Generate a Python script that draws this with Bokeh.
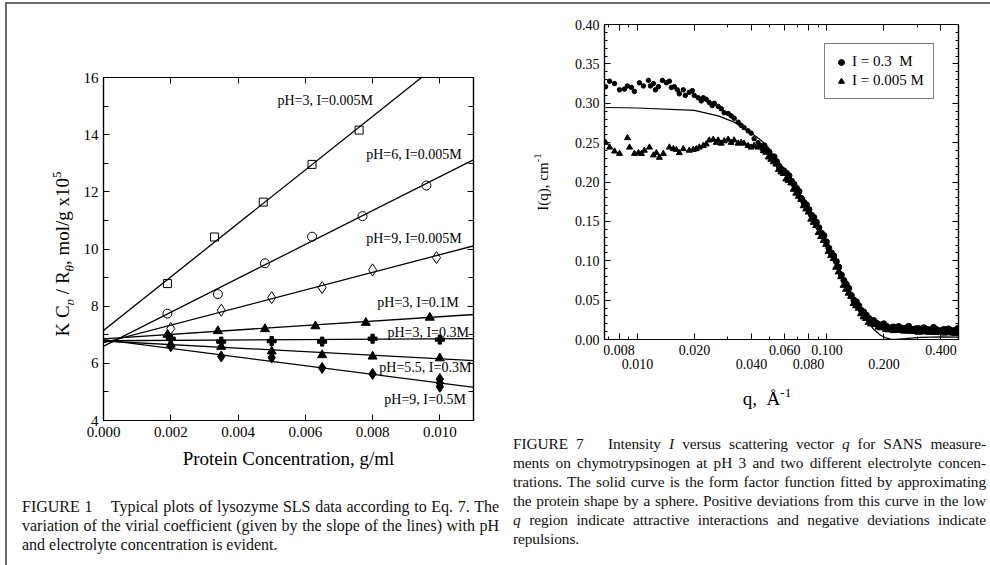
import numpy as np
from bokeh.plotting import figure
from bokeh.models import (Range1d, LinearAxis, LogAxis, FixedTicker, SingleIntervalTicker,
                          Slope, Legend, LegendItem, Div, NumeralTickFormatter,
                          CustomJSTickFormatter)
from bokeh.layouts import row, column
from bokeh.embed import file_html
from bokeh.resources import INLINE
from bokeh.core.properties import value

FONT = "Liberation Serif"

# ---------------- Figure 1 data (lysozyme SLS) ----------------
c_sq = [0.0019, 0.0033, 0.00475, 0.0062, 0.0076]
y_sq = [8.79, 10.42, 11.64, 12.96, 14.16]
c_circ = [0.0019, 0.0034, 0.0048, 0.0062, 0.0077, 0.0096]
y_circ = [7.74, 8.42, 9.50, 10.43, 11.15, 12.22]
c_dia = [0.0020, 0.0035, 0.0050, 0.0065, 0.0080, 0.0099]
y_dia = [7.22, 7.86, 8.30, 8.65, 9.27, 9.70]
c_tri01 = [0.0019, 0.0034, 0.0048, 0.0063, 0.0078, 0.0097]
y_tri01 = [7.00, 7.13, 7.20, 7.30, 7.42, 7.60]
c_plus = [0.0020, 0.0035, 0.0050, 0.0065, 0.0080, 0.0100]
y_plus = [6.86, 6.76, 6.78, 6.76, 6.86, 6.83]
c_tri55 = [0.0020, 0.0035, 0.0050, 0.0065, 0.0080, 0.0100]
y_tri55 = [6.66, 6.58, 6.42, 6.29, 6.24, 6.18]
c_dia9 = [0.0020, 0.0035, 0.0050, 0.0065, 0.0080, 0.0100, 0.0100, 0.0100]
y_dia9 = [6.60, 6.24, 6.20, 5.84, 5.63, 5.45, 5.31, 5.18]

fit_intercepts = [7.15, 6.60, 6.72, 6.86, 6.79, 6.78, 6.83]
fit_slopes = [936, 593, 308, 77, 7, -62, -152]

series_labels = ["pH=3, I=0.005M", "pH=6, I=0.005M", "pH=9, I=0.005M", "pH=3, I=0.1M",
                 "pH=3, I=0.3M", "pH=5.5, I=0.3M", "pH=9, I=0.5M"]
label_x = [0.00517, 0.00781, 0.00781, 0.00814, 0.00844, 0.00820, 0.00835]
label_y = [15.2, 13.31, 10.37, 8.13, 7.08, 5.85, 4.73]

x1_ticks = [0.000, 0.002, 0.004, 0.006, 0.008, 0.010]

# ---------------- Figure 7 data (SANS) ----------------
# I = 0.3 M, low-q part
q_03 = [0.00679, 0.00713, 0.00757, 0.00804, 0.00854, 0.00886, 0.00930, 0.00964, 0.01024, 0.01075,
        0.01143, 0.01171, 0.01214, 0.01244, 0.01290, 0.01354, 0.01421, 0.01474, 0.01510, 0.01565,
        0.01624, 0.01663, 0.01746, 0.01789, 0.01878, 0.01948, 0.01995, 0.02094, 0.02172, 0.02225,
        0.02307, 0.02393, 0.02481, 0.02542, 0.02668, 0.02768, 0.02870, 0.03011, 0.03123, 0.03240,
        0.03401, 0.03525, 0.03656, 0.03837, 0.03981, 0.04128, 0.04333, 0.04494]
I_03 = [0.321, 0.328, 0.325, 0.317, 0.318, 0.322, 0.320, 0.315, 0.326, 0.322,
        0.329, 0.322, 0.325, 0.317, 0.321, 0.329, 0.326, 0.328, 0.320, 0.321,
        0.317, 0.312, 0.317, 0.310, 0.314, 0.316, 0.310, 0.307, 0.303, 0.307,
        0.305, 0.301, 0.297, 0.300, 0.296, 0.293, 0.288, 0.287, 0.284, 0.281,
        0.276, 0.272, 0.269, 0.265, 0.262, 0.255, 0.250, 0.246]
# I = 0.3 M, dense high-q band
q_03_band = [0.04660, 0.04951, 0.05262, 0.05590, 0.05938, 0.06310, 0.06704, 0.07122, 0.07567, 0.08039,
             0.08541, 0.09074, 0.09643, 0.1024, 0.1088, 0.1156, 0.1229, 0.1305, 0.1387, 0.1474,
             0.1565, 0.1664, 0.1768, 0.1878, 0.1995, 0.2120, 0.2252, 0.2393, 0.2543, 0.2702,
             0.2871, 0.3050, 0.3240, 0.3443, 0.3657, 0.3886, 0.4129, 0.4387, 0.4661, 0.4893,
             0.04803, 0.05104, 0.05424, 0.05763, 0.06122, 0.06505, 0.06913, 0.07343, 0.07801, 0.08288,
             0.08806, 0.09357, 0.09940, 0.1056, 0.1122, 0.1192, 0.1267, 0.1346, 0.1430, 0.1519,
             0.1614, 0.1715, 0.1822, 0.1936, 0.2057, 0.2186, 0.2322, 0.2467, 0.2620, 0.2784,
             0.2959, 0.3144, 0.3340, 0.3548, 0.3770, 0.4005, 0.4256, 0.4522, 0.4804]
I_03_band = [0.246, 0.238, 0.232, 0.220, 0.214, 0.208, 0.197, 0.188, 0.174, 0.165,
             0.155, 0.142, 0.132, 0.116, 0.106, 0.092, 0.075, 0.065, 0.050, 0.043,
             0.035, 0.027, 0.024, 0.019, 0.020, 0.0145, 0.016, 0.0165, 0.014, 0.0168,
             0.0125, 0.014, 0.015, 0.0125, 0.0154, 0.011, 0.0128, 0.0135, 0.0113, 0.0140,
             0.241, 0.232, 0.226, 0.216, 0.211, 0.201, 0.192, 0.179, 0.171, 0.158,
             0.149, 0.135, 0.124, 0.110, 0.099, 0.082, 0.070, 0.056, 0.048, 0.037,
             0.031, 0.024, 0.021, 0.018, 0.017, 0.0150, 0.0155, 0.0140, 0.0147, 0.0132,
             0.0138, 0.0126, 0.0133, 0.0120, 0.0128, 0.0114, 0.0123, 0.0109, 0.0117]

# I = 0.005 M, low-q part
q_0005 = [0.00679, 0.00713, 0.00757, 0.00804, 0.00886, 0.00908, 0.00964, 0.01012, 0.01050, 0.01088,
          0.01157, 0.01214, 0.01259, 0.01305, 0.01370, 0.01474, 0.01547, 0.01605, 0.01663, 0.01746,
          0.01878, 0.01971, 0.02045, 0.02120, 0.02225, 0.02307, 0.02393, 0.02512, 0.02605, 0.02668,
          0.02768, 0.02870, 0.03011, 0.03123, 0.03240, 0.03401, 0.03525, 0.03656, 0.03837, 0.03981,
          0.04128, 0.04333, 0.04603]
I_0005 = [0.250, 0.244, 0.239, 0.236, 0.256, 0.244, 0.236, 0.237, 0.236, 0.240,
          0.244, 0.234, 0.237, 0.231, 0.236, 0.244, 0.242, 0.241, 0.237, 0.242,
          0.240, 0.241, 0.242, 0.244, 0.246, 0.248, 0.253, 0.254, 0.250, 0.253,
          0.249, 0.252, 0.254, 0.250, 0.253, 0.249, 0.250, 0.249, 0.246, 0.244,
          0.246, 0.244, 0.242]
# I = 0.005 M, dense high-q band
q_0005_band = [0.04660, 0.04951, 0.05262, 0.05590, 0.05938, 0.06310, 0.06704, 0.07122, 0.07567, 0.08039,
               0.08541, 0.09074, 0.09643, 0.1024, 0.1088, 0.1156, 0.1229, 0.1305, 0.1387, 0.1474,
               0.1565, 0.1664, 0.1768, 0.1878, 0.1995, 0.2120, 0.2252, 0.2393, 0.2543, 0.2702,
               0.2871, 0.3050, 0.3240, 0.3443, 0.3657, 0.3886, 0.4129, 0.4387, 0.4661, 0.4893,
               0.04803, 0.05104, 0.05424, 0.05763, 0.06122, 0.06505, 0.06913, 0.07343, 0.07801, 0.08288,
               0.08806, 0.09357, 0.09940, 0.1056, 0.1122, 0.1192, 0.1267, 0.1346, 0.1430, 0.1519,
               0.1614, 0.1715, 0.1822, 0.1936, 0.2057, 0.2186, 0.2322, 0.2467, 0.2620, 0.2784,
               0.2959, 0.3144, 0.3340, 0.3548, 0.3770, 0.4005, 0.4256, 0.4522, 0.4804]
I_0005_band = [0.240, 0.232, 0.226, 0.216, 0.211, 0.202, 0.191, 0.182, 0.170, 0.162,
               0.149, 0.136, 0.126, 0.112, 0.103, 0.086, 0.069, 0.059, 0.046, 0.040,
               0.029, 0.022, 0.020, 0.016, 0.016, 0.0125, 0.0115, 0.0125, 0.0110, 0.0128,
               0.0105, 0.0095, 0.0110, 0.0095, 0.0114, 0.0090, 0.0085, 0.0095, 0.0083, 0.0100,
               0.238, 0.229, 0.223, 0.213, 0.204, 0.199, 0.186, 0.178, 0.166, 0.153,
               0.145, 0.131, 0.121, 0.107, 0.092, 0.080, 0.064, 0.055, 0.043, 0.033,
               0.027, 0.020, 0.019, 0.015, 0.013, 0.0132, 0.0118, 0.0133, 0.0109, 0.0107,
               0.0113, 0.0100, 0.0118, 0.0095, 0.0092, 0.0099, 0.0087, 0.0104, 0.0081]

q_fit = [0.00679, 0.0100, 0.01995, 0.02668, 0.03240, 0.03837, 0.04494, 0.04887, 0.0552, 0.0624,
         0.0704, 0.0794, 0.0897, 0.1012, 0.1143, 0.1290, 0.1383, 0.1510, 0.1637, 0.1764,
         0.1919, 0.2046, 0.2170, 0.2303, 0.2596, 0.3113, 0.3977, 0.4950]
I_fit = [0.2946, 0.2940, 0.2910, 0.2840, 0.2760, 0.2650, 0.2530, 0.2440, 0.222, 0.206,
         0.188, 0.167, 0.143, 0.118, 0.092, 0.066, 0.052, 0.036, 0.023, 0.013,
         0.0055, 0.002, 0.0005, 0.0003, 0.0012, 0.0028, 0.0033, 0.0030]

q_major = [0.008, 0.010, 0.020, 0.040, 0.060, 0.080, 0.100, 0.200, 0.400]
q_minor = [0.007, 0.009, 0.030, 0.050, 0.070, 0.090, 0.300]
q_row1 = [0.008, 0.020, 0.060, 0.100, 0.400]
q_row2 = [0.010, 0.040, 0.080, 0.200]
legend_labels = ["I = 0.3  M", "I = 0.005 M"]


def style_axis(ax, size):
    ax.axis_line_color = "black"
    ax.axis_line_width = 1.2
    ax.major_tick_line_color = "black"
    ax.minor_tick_line_color = "black"
    ax.major_tick_in = 6
    ax.major_tick_out = 0
    ax.minor_tick_in = 3
    ax.minor_tick_out = 0
    ax.major_label_text_font = FONT
    ax.major_label_text_font_size = size
    ax.major_label_text_color = "black"
    ax.axis_label_text_font = FONT
    ax.axis_label_text_font_style = "normal"
    ax.axis_label_text_color = "black"


blank = CustomJSTickFormatter(code="return '';")

# ================= Figure 1 =================
p1 = figure(width=428, height=480, x_range=Range1d(0, 0.011), y_range=Range1d(4, 16),
            output_backend="svg", toolbar_location=None, margin=0,
            min_border_left=30, min_border_right=28, min_border_top=73, min_border_bottom=64)
p1.xgrid.visible = False
p1.ygrid.visible = False
p1.outline_line_color = "black"
p1.outline_line_width = 1.2

xt1 = FixedTicker(ticks=x1_ticks, minor_ticks=[])
yt1 = SingleIntervalTicker(interval=2, num_minor_ticks=2)
p1.xaxis.ticker = xt1
p1.xaxis.formatter = NumeralTickFormatter(format="0.000")
p1.yaxis.ticker = yt1
for ax in p1.xaxis + p1.yaxis:
    style_axis(ax, "15px")
p1.yaxis.minor_tick_in = 5
p1.xaxis.major_label_standoff = 6
p1.yaxis.major_label_standoff = 5
p1.xaxis.axis_label = "Protein Concentration, g/ml"
p1.xaxis.axis_label_text_font_size = "19px"
p1.xaxis.axis_label_standoff = 8

top1 = LinearAxis(ticker=xt1, formatter=blank)
right1 = LinearAxis(ticker=yt1, formatter=blank)
for ax in (top1, right1):
    style_axis(ax, "1px")
right1.minor_tick_in = 5
p1.add_layout(top1, "above")
p1.add_layout(right1, "right")

for a, b in zip(fit_intercepts, fit_slopes):
    p1.add_layout(Slope(gradient=b, y_intercept=a, line_color="black", line_width=1.3))

p1.scatter(c_sq, y_sq, marker="square", size=8, fill_color="white", line_color="black", line_width=1)
p1.scatter(c_circ, y_circ, marker="circle", size=9, fill_color="white", line_color="black", line_width=1)
p1.scatter(c_dia, y_dia, marker="diamond", size=12, fill_color="white", line_color="black", line_width=1)
p1.scatter(c_tri01, y_tri01, marker="triangle", size=9, fill_color="black", line_color="black")
p1.scatter(c_plus, y_plus, marker="plus", size=9, fill_color="black", line_color="black", line_width=1)
p1.scatter(c_tri55, y_tri55, marker="triangle", size=9, fill_color="black", line_color="black")
p1.scatter(c_dia9, y_dia9, marker="diamond", size=11, fill_color="black", line_color="black")

p1.text(x=label_x, y=label_y, text=series_labels, text_font=value(FONT), text_font_size="14px",
        text_baseline="middle", text_align="left", text_color="black")

# ================= Figure 7 =================
p2 = figure(width=419, height=380, x_axis_type="log", x_range=Range1d(0.0067, 0.495),
            y_range=Range1d(0, 0.40), output_backend="svg", toolbar_location=None, margin=0,
            min_border_left=32, min_border_right=32, min_border_top=20, min_border_bottom=45)
p2.xgrid.visible = False
p2.ygrid.visible = False
p2.outline_line_color = "black"
p2.outline_line_width = 1.2

xt2 = FixedTicker(ticks=q_major, minor_ticks=q_minor)
yt2 = SingleIntervalTicker(interval=0.05, num_minor_ticks=5)
p2.xaxis.ticker = xt2
p2.xaxis.formatter = CustomJSTickFormatter(args=dict(show=q_row1),
    code="return show.some(v => Math.abs(v - tick) < 1e-9) ? tick.toFixed(3) : '';")
p2.yaxis.ticker = yt2
p2.yaxis.formatter = NumeralTickFormatter(format="0.00")
for ax in p2.xaxis + p2.yaxis:
    style_axis(ax, "14px")
p2.xaxis.major_label_standoff = 5
p2.yaxis.major_label_standoff = 5

row2 = LogAxis(ticker=FixedTicker(ticks=q_row2, minor_ticks=[]),
               formatter=CustomJSTickFormatter(code="return tick.toFixed(3);"))
style_axis(row2, "14px")
row2.axis_line_color = None
row2.major_tick_line_color = None
row2.minor_tick_line_color = None
row2.major_label_standoff = 1
p2.add_layout(row2, "below")

top2 = LogAxis(ticker=xt2, formatter=blank)
right2 = LinearAxis(ticker=yt2, formatter=blank)
for ax in (top2, right2):
    style_axis(ax, "1px")
p2.add_layout(top2, "above")
p2.add_layout(right2, "right")

p2.line(q_fit, I_fit, line_color="black", line_width=1.2)
r_dots = p2.scatter(q_03, I_03, marker="circle", size=4.5, fill_color="black", line_color="black")
r_tri = p2.scatter(q_0005, I_0005, marker="triangle", size=6, fill_color="black", line_color="black")
r_dots_b = p2.scatter(q_03_band, I_03_band, marker="circle", size=6, fill_color="black", line_color="black")
r_tri_b = p2.scatter(q_0005_band, I_0005_band, marker="triangle", size=7.5, fill_color="black",
                     line_color="black")

leg = Legend(items=[LegendItem(label=legend_labels[0], renderers=[r_dots, r_dots_b]),
                    LegendItem(label=legend_labels[1], renderers=[r_tri, r_tri_b])],
             location=(220, 240), padding=9, spacing=2, label_height=17, glyph_width=14,
             glyph_height=14, label_standoff=4, margin=0,
             label_text_font=FONT, label_text_font_size="15px", label_text_color="black",
             border_line_color="black", border_line_width=1.2, background_fill_alpha=1)
p2.add_layout(leg)


# ================= HTML text blocks =================
def text_block(html, w, h, cx, cy, size, rotate=False):
    tf = "translate(-50%,-50%) rotate(-90deg)" if rotate else "translate(-50%,-50%)"
    inner = (f'<div style="position:relative;box-sizing:content-box;width:{w}px;height:{h}px;">'
             f'<div style="position:absolute;left:{cx}px;top:{cy}px;transform:{tf};'
             f"white-space:nowrap;font-family:'Liberation Serif';font-size:{size};"
             f'line-height:1;color:black;">{html}</div></div>')
    return Div(text=inner, width=w, height=h, margin=0)


def sub(t, size="13px", dy=5, italic=True):
    st = "italic" if italic else "normal"
    return (f'<span style="font-size:{size};font-style:{st};position:relative;'
            f'top:{dy}px;">{t}</span>')


ylab1_html = ("K C" + sub("p") + " / R" + sub("θ") + ", mol/g x10"
              + sub("5", dy=-8, italic=False))
ylab2_html = "I(q), cm" + sub("-1", size="11px", dy=-7, italic=False)
xlab2_html = "q,&nbsp; Å" + sub("-1", size="13px", dy=-8, italic=False)

ydiv1 = text_block(ylab1_html, 66, 480, 55, 250, "19px", rotate=True)
ydiv2 = text_block(ylab2_html, 70, 380, 42, 178, "15px", rotate=True)
xdiv2 = text_block(xlab2_html, 489, 41, 266, 14, "19px")

J = "text-align:justify;text-align-last:justify;white-space:nowrap;"

cap1_lines = ["FIGURE 1&nbsp;&nbsp;&nbsp; Typical plots of lysozyme SLS data according to Eq. 7. The",
              "variation of the virial coefficient (given by the slope of the lines) with pH",
              "and electrolyte concentration is evident."]
cap7_lines = ["FIGURE 7&nbsp;&nbsp; Intensity <i>I</i> versus scattering vector <i>q</i> for SANS measure-",
              "ments on chymotrypsinogen at pH 3 and two different electrolyte concen-",
              "trations. The solid curve is the form factor function fitted by approximating",
              "the protein shape by a sphere. Positive deviations from this curve in the low",
              "<i>q</i> region indicate attractive interactions and negative deviations indicate",
              "repulsions."]


def caption(lines, w, pad_top, pad_left, text_w, h, size, spacing):
    cap = (f"font-family:'Liberation Serif';font-size:{size};line-height:19px;color:#111;"
           f"letter-spacing:{spacing};box-sizing:content-box;")
    parts = []
    for i, t in enumerate(lines):
        st = J if i < len(lines) - 1 else "white-space:nowrap;"
        parts.append(f'<div style="{st}">{t}</div>')
    html = (f'<div style="{cap}padding-top:{pad_top}px;padding-left:{pad_left}px;'
            f'width:{text_w}px;">{"".join(parts)}</div>')
    return Div(text=html, width=w, height=h, margin=0)


cap1 = caption(cap1_lines, 494, 13, 15, 477, 81, "16px", "0px")
cap7 = caption(cap7_lines, 489, 9, 12, 473, 140, "15.4px", "-0.1px")

LINE = "#6a6a6a"
left_col = column(row(ydiv1, p1, spacing=0, margin=0), cap1, spacing=0, margin=0)
right_col = column(row(ydiv2, p2, spacing=0, margin=0), xdiv2, cap7, spacing=0, margin=0)
content = row(left_col, right_col, spacing=0, margin=0)
topline = Div(text="", width=985, height=2, margin=0, styles={"background-color": LINE})
leftline = Div(text="", width=2, height=561, margin=0, styles={"background-color": LINE})
inner = column(topline, row(leftline, content, spacing=0, margin=0), spacing=0, margin=0)
page = column(Div(text="", width=990, height=2, margin=0),
              row(Div(text="", width=5, height=563, margin=0), inner, spacing=0, margin=0),
              spacing=0, margin=0)

open("out.html", "w").write(file_html(page, INLINE))
